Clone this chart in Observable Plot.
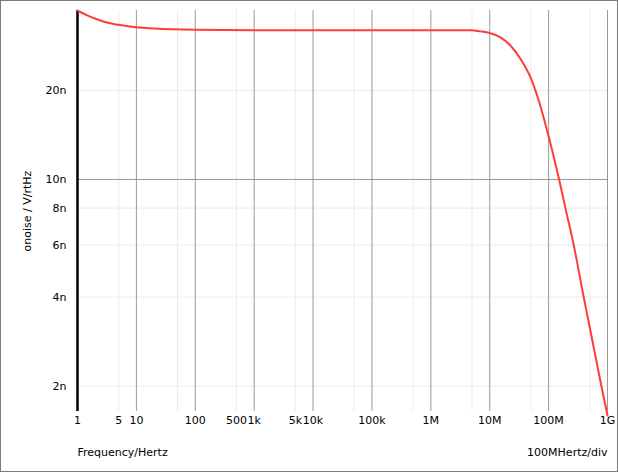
<!DOCTYPE html>
<html>
<head>
<meta charset="utf-8">
<script src="https://cdn.jsdelivr.net/npm/d3@7"></script>
<script src="https://cdn.jsdelivr.net/npm/@observablehq/plot@0.6"></script>
<style>
  html, body { margin: 0; padding: 0; background: #fff; }
  #wrap { position: relative; width: 618px; height: 472px; }
  #border { position: absolute; left: 0; top: 0; width: 618px; height: 472px; box-sizing: border-box; border: 1px solid #7a7a7a; pointer-events: none; }
</style>
</head>
<body>
<div id="wrap"><div id="border"></div></div>
<script>
// Frequency (Hz) and output noise (V/rtHz)
const freqs = [1, 1.5, 2.2, 3.27, 5, 10, 20, 100, 1e3, 1e4, 1e5, 1e6, 4.7e6, 6.95e6, 1e7, 1.52e7, 2.25e7, 3.32e7, 4.91e7, 6.79e7, 1e8, 1.507e8, 1.93e8, 2.67e8, 3.94e8, 7.87e8, 1e9];
const noise = [37.3e-9, 35.86e-9, 34.76e-9, 33.88e-9, 33.36e-9, 32.73e-9, 32.41e-9, 32.1e-9, 32.0e-9, 32.0e-9, 32.0e-9, 32.0e-9, 31.95e-9, 31.7e-9, 31.3e-9, 30.27e-9, 28.39e-9, 25.6e-9, 22.18e-9, 18.5e-9, 14.0e-9, 10.0e-9, 8.0e-9, 6.0e-9, 4.0e-9, 2.0e-9, 1.59e-9];

const xTicks = [1, 5, 10, 100, 500, 1e3, 5e3, 1e4, 1e5, 1e6, 1e7, 1e8, 1e9];
const xTickLabels = ["1", "5", "10", "100", "500", "1k", "5k", "10k", "100k", "1M", "10M", "100M", "1G"];
const xMajor = [1, 10, 100, 1e3, 1e4, 1e5, 1e6, 1e7, 1e8, 1e9];
const xMinor = [5, 50, 500, 5e3, 5e4, 5e5, 5e6, 5e7, 5e8];
const yTicks = [2e-9, 4e-9, 6e-9, 8e-9, 10e-9, 20e-9];
const yTickLabels = ["2n", "4n", "6n", "8n", "10n", "20n"];
const yMajor = [10e-9];
const yMinor = [2e-9, 4e-9, 6e-9, 8e-9, 20e-9];
const xDomain = [1, 1e9];
const yDomain = [1.64e-9, 37.3e-9];

const data = freqs.map((f, i) => ({f, v: noise[i]}));
const yLab = new Map(yTicks.map((t, i) => [t, yTickLabels[i]]));

const chart = Plot.plot({
  width: 618,
  height: 472,
  marginLeft: 77,
  marginRight: 11,
  marginTop: 10,
  marginBottom: 61,
  style: {fontFamily: "DejaVu Sans", fontSize: "11px", color: "#000", background: "transparent"},
  x: {type: "log", domain: xDomain, axis: null},
  y: {type: "log", domain: yDomain},
  marks: [
    Plot.ruleX(xMinor, {stroke: "#ebebeb", strokeWidth: 1}),
    Plot.ruleY(yMinor, {stroke: "#ebebeb", strokeWidth: 1}),
    Plot.ruleX(xMajor, {stroke: "#999", strokeWidth: 1}),
    Plot.ruleY(yMajor, {stroke: "#999", strokeWidth: 1}),
    Plot.text(xTicks, {x: d => d, frameAnchor: "bottom", dy: 12, text: (d, i) => xTickLabels[i], fill: "#000"}),
    Plot.axisY({ticks: yTicks, tickFormat: d => yLab.get(d), tickSize: 0, tickPadding: 11, label: "onoise / V/rtHz", labelAnchor: "center", labelOffset: 54, labelArrow: "none", fill: "#000"}),
    Plot.ruleX([xDomain[0]], {stroke: "#000", strokeWidth: 2.5}),
    Plot.line(data, {x: "f", y: "v", stroke: "#ff3c3c", strokeWidth: 2, curve: "monotone-x"}),
    Plot.text(["Frequency/Hertz"], {frameAnchor: "bottom-left", dy: 44, textAnchor: "start", fill: "#000"}),
    Plot.text(["100MHertz/div"], {frameAnchor: "bottom-right", dy: 44, textAnchor: "end", fill: "#000"})
  ]
});
document.getElementById("wrap").prepend(chart);
</script>
</body>
</html>
